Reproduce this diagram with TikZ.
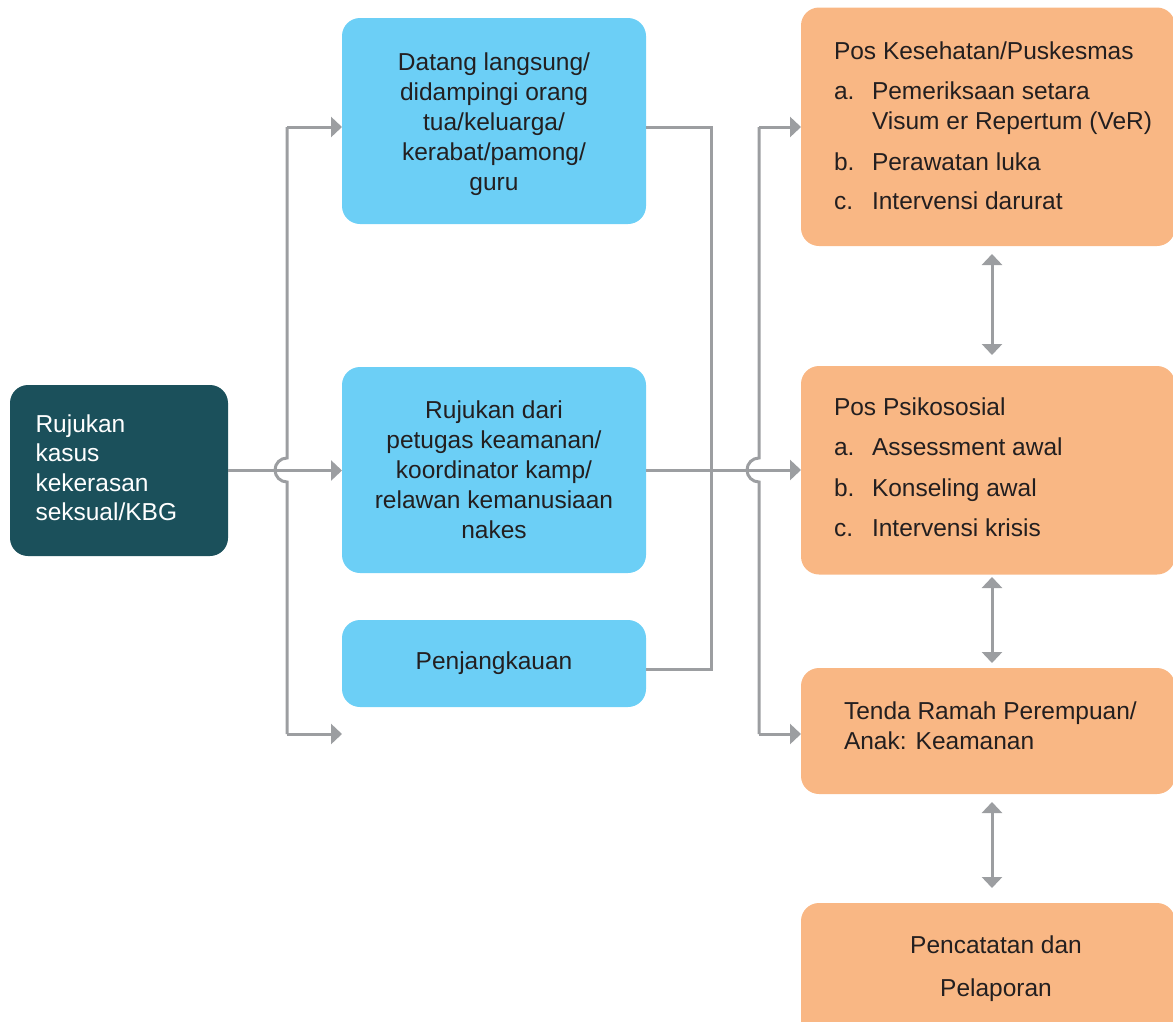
\documentclass[tikz,border=0pt]{standalone}
\usepackage{fontspec}
\setmainfont{Liberation Sans}
\usetikzlibrary{arrows.meta,calc}
\definecolor{boxdark}{HTML}{1B505B}
\definecolor{boxblue}{HTML}{6CCFF6}
\definecolor{boxorange}{HTML}{F9B784}
\definecolor{linkgray}{HTML}{9C9EA1}
\definecolor{inktext}{HTML}{231F20}
\begin{document}
\begin{tikzpicture}[x=1pt,y=-1pt,
  every node/.style={font=\fontsize{24.5}{30}\selectfont, text=inktext, inner sep=0pt, outer sep=0pt},
  panel/.style={rounded corners=18pt},
  darkpanel/.style={panel, fill=boxdark},
  bluepanel/.style={panel, fill=boxblue, align=center},
  orangepanel/.style={panel, fill=boxorange},
  link/.style={draw=linkgray, line width=3pt},
  tip/.tip={Triangle[length=11pt,width=20pt]},
  arrow/.style={link, -tip},
  twoway/.style={link, tip-tip},
  listtext/.style={anchor=north west, align=left}]
\useasboundingbox (0,0) rectangle (1173,1021);

% source box
\node[darkpanel, minimum width=218pt, minimum height=171pt] (L) at (119,470.5) {};
\node[listtext, text=white, font=\fontsize{24.5}{29.5}\selectfont] (Ltext) at (35.5,411.8)
  {\strut Rujukan\\kasus\\kekerasan\\seksual/KBG};

% entry channels
\node[bluepanel, minimum width=304pt, minimum height=206pt] (B1) at (494,121)
  {\rule{0pt}{24pt}Datang langsung/\\didampingi orang\\tua/keluarga/\\kerabat/pamong/\\guru};
\node[bluepanel, minimum width=304pt, minimum height=206pt] (B2) at (494,470)
  {Rujukan dari\\petugas keamanan/\\koordinator kamp/\\relawan kemanusiaan\\nakes};
\node[bluepanel, minimum width=304pt, minimum height=87pt] (B3) at (494,663.5)
  {Penjangkauan};

% service posts
\node[orangepanel, minimum width=374pt, minimum height=238.5pt] (O1) at (988,126.75) {};
\node[orangepanel, minimum width=374pt, minimum height=208.5pt] (O2) at (988,470.25) {};
\node[orangepanel, minimum width=374pt, minimum height=126pt] (O3) at (988,731) {};
\node[orangepanel, minimum width=374pt, minimum height=137pt] (O4) at (988,971.5) {};

\node[listtext] (O1text) at (834,38)
  {\strut Pos Kesehatan/Puskesmas\\[10.5pt]
   \makebox[38pt][l]{a.}Pemeriksaan setara\\
   \hspace*{38pt}Visum er Repertum (VeR)\\[10.5pt]
   \makebox[38pt][l]{b.}Perawatan luka\\[9.5pt]
   \makebox[38pt][l]{c.}Intervensi darurat};
\node[listtext] (O2text) at (834,394.5)
  {\strut Pos Psikososial\\[10pt]
   \makebox[38pt][l]{a.}Assessment awal\\[10.5pt]
   \makebox[38pt][l]{b.}Konseling awal\\[10pt]
   \makebox[38pt][l]{c.}Intervensi krisis};
\node[listtext] (O3text) at (844,698.5)
  {\strut Tenda Ramah Perempuan/\\Anak: Keamanan};
\node[anchor=north, align=center, font=\fontsize{24.5}{43}\selectfont] (O4text) at (996,923.4)
  {\strut Pencatatan dan\\Pelaporan};

% left distribution bus with a hop over the main feed
\coordinate (lj1) at (287,127);
\coordinate (lj2) at (287,734);
\coordinate (ljc) at (287,470);
\coordinate (lend) at (342,734);
\draw[link] (lj1) -- ($(ljc)+(0,-12)$) arc[start angle=90, end angle=270, radius=12pt] -- (lj2);
\draw[arrow] (lj1) -- (B1.west |- lj1);
\draw[arrow] (lj2) -- (lend);
\draw[arrow] (L.east) -- (L.east -| B2.west);

% right collector and distribution bus
\coordinate (r1) at (711,127);
\coordinate (r2) at (711,669);
\draw[link] (B1.east |- r1) -- (r1) -- (r2) -- (B3.east |- r2);
\coordinate (s1) at (759,127);
\coordinate (s2) at (759,734);
\coordinate (sc) at (759,470);
\draw[link] (s1) -- ($(sc)+(0,-12)$) arc[start angle=90, end angle=270, radius=12pt] -- (s2);
\draw[arrow] (B2.east) -- (B2.east -| O2.west);
\draw[arrow] (s1) -- (O1.west |- s1);
\draw[arrow] (s2) -- (O3.west |- s2);

% links between the posts
\coordinate (ax) at (992,0);
\draw[twoway, shorten <=8pt, shorten >=11pt] (O1.south -| ax) -- (O2.north -| ax);
\draw[twoway, shorten <=2.5pt, shorten >=5pt] (O2.south -| ax) -- (O3.north -| ax);
\draw[twoway, shorten <=8pt, shorten >=15pt] (O3.south -| ax) -- (O4.north -| ax);
\end{tikzpicture}
\end{document}
